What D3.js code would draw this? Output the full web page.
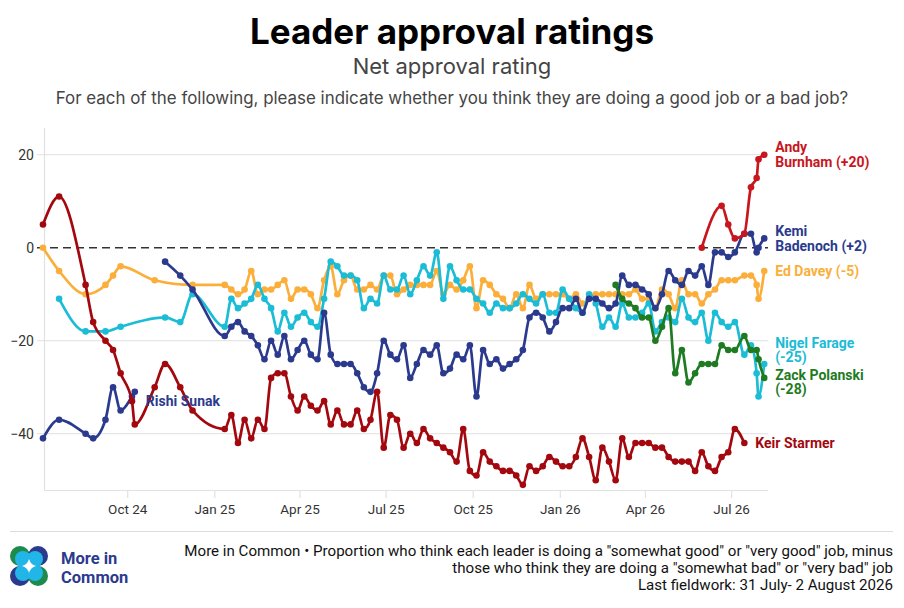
<!DOCTYPE html>
<html>
<head>
<meta charset="utf-8">
<script src="https://cdn.jsdelivr.net/npm/d3@7"></script>
<style>
  body { margin: 0; background: #fff; }
  text { font-family: Roboto, "Noto Sans", sans-serif; }
</style>
</head>
<body>
<div id="chart"></div>
<script>
// poll dates: sparse in 2024, then weekly
let earlyDates = ["2024-07-04","2024-07-21","2024-08-18","2024-08-26","2024-09-08","2024-09-16",
    "2024-09-24","2024-10-06","2024-10-09","2024-10-30","2024-11-10","2024-11-26","2024-12-09"];

let weekDates = [
    "2025-01-12","2025-01-19","2025-01-26","2025-02-02","2025-02-09","2025-02-16","2025-02-23",
    "2025-03-02","2025-03-09","2025-03-16","2025-03-23","2025-03-30",
    "2025-04-06","2025-04-13","2025-04-20","2025-04-27",
    "2025-05-04","2025-05-11","2025-05-18","2025-05-25",
    "2025-06-01","2025-06-08","2025-06-15","2025-06-22","2025-06-29",
    "2025-07-06","2025-07-13","2025-07-20","2025-07-27",
    "2025-08-03","2025-08-10","2025-08-17","2025-08-24","2025-08-31",
    "2025-09-07","2025-09-14","2025-09-21","2025-09-28",
    "2025-10-05","2025-10-12","2025-10-19","2025-10-26",
    "2025-11-02","2025-11-09","2025-11-16","2025-11-23","2025-11-30",
    "2025-12-07","2025-12-14","2025-12-21","2025-12-28",
    "2026-01-04","2026-01-11","2026-01-18","2026-01-25",
    "2026-02-01","2026-02-08","2026-02-15","2026-02-22",
    "2026-03-01","2026-03-08","2026-03-15","2026-03-22","2026-03-29",
    "2026-04-05","2026-04-12","2026-04-19","2026-04-26",
    "2026-05-03","2026-05-10","2026-05-17","2026-05-24","2026-05-31",
    "2026-06-07","2026-06-14","2026-06-21","2026-06-28",
    "2026-07-05","2026-07-15","2026-07-22","2026-07-28","2026-07-30","2026-08-05"];

let n = null;

let starmerEarly = [5, 11, -8, -16, -20, -22, -27, -33, -38, -30, -25, -30, -35];
let starmerWeekly = [-39,-36,-42,-37,-41,-37,-39,-28,-27,-27,
    -32,-35,-32,-34,-35,-33,-38,-35,-38,-38,
    -35,-39,-37,-31,-43,-36,-37,-43,-40,-42,
    -39,-41,-42,-43,-44,-46,-39,-48,-49,-44,
    -46,-47,-48,-48,-49,-51,-47,-48,-47,-45,
    -46,-47,-47,-45,-41,-45,-50,-43,-46,-50,
    -41,-45,-42,-42,-42,-43,-43,-45,-46,-46,
    -46,-48,-44,-47,-48,-45,-44,-39,-42,n,n,n,n];

let daveyEarly = [0, -5, -10, n, -8, -6, -4, n, n, -7, n, n, -8];
let daveyWeekly = [-8,-9,-10,-9,-5,-10,-9,-9,-8,-7,
    -11,-9,-9,-10,-13,-7,-4,-10,-7,-6,
    -9,-9,-8,-9,-6,-6,-10,-9,-8,-8,
    -8,-8,-5,-10,-8,-9,-7,-4,-13,-7,
    -8,-10,-11,-13,-10,-13,-8,-11,-10,-10,
    -10,-10,-11,-10,-12,-11,-10,-10,-10,-10,
    -10,-10,-9,-11,-11,-13,-9,-10,-13,-7,
    -10,-10,-12,-10,-9,-7,-7,-7,-6,-6,-8,-11,-5];

let farageEarly = [n, -11, -18, n, -18, n, -17, n, n, n, -15, -16, -10];
let farageWeekly = [-17,-11,-13,-12,-11,-8,-11,-13,-18,-14,
    -17,-15,-14,-16,-17,-11,-3,-4,-6,-6,
    -7,-13,-11,-12,-6,-9,-9,-6,-10,-7,
    -4,-6,-1,-11,-4,-7,-9,-9,-11,-12,
    -14,-12,-13,-13,-12,-10,-11,-12,-10,-14,
    -14,-9,-11,-13,-14,-10,-12,-17,-15,-17,
    -12,-15,-15,-14,-12,-18,-16,-15,-16,-11,
    -15,-16,-14,-20,-14,-16,-17,-16,-23,-21,-27,-32,-25];

let sunakEarly = [-41, -37, -40, -41, -37, -30, -35, -32, -31, n, n, n, n];

let badenochEarly = [n, n, n, n, n, n, n, n, n, n, -3, -6, -9];
let badenochWeekly = [-19,-17,-16,-18,-19,-21,-24,-20,-23,-19,
    -24,-22,-20,-23,-24,-14,-23,-25,-25,-25,
    -27,-30,-31,-27,-20,-23,-24,-21,-28,-25,
    -22,-23,-21,-27,-26,-23,-24,-21,-32,-22,
    -25,-24,-26,-25,-24,-22,-15,-14,-15,-18,
    -16,-13,-13,-11,-14,-11,-11,-12,-13,-12,
    -6,-8,-8,-9,-10,-13,-10,-5,-7,-8,
    -5,-6,-4,-8,-1,-1,-2,-1,3,3,-1,0,2];

let polanskiWeekly = [n,n,n,n,n,n,n,n,n,n, n,n,n,n,n,n,n,n,n,n,
    n,n,n,n,n,n,n,n,n,n, n,n,n,n,n,n,n,n,n,n,
    n,n,n,n,n,n,n,n,n,n, n,n,n,n,n,n,n,n,n,-8,
    -11,-12,-13,-15,-15,-20,-17,-13,-27,-22,
    -29,-27,-25,-25,-25,-21,-22,-22,-19,-22,-22,-24,-28];

let burnhamWeekly = [n,n,n,n,n,n,n,n,n,n, n,n,n,n,n,n,n,n,n,n,
    n,n,n,n,n,n,n,n,n,n, n,n,n,n,n,n,n,n,n,n,
    n,n,n,n,n,n,n,n,n,n, n,n,n,n,n,n,n,n,n,n,
    n,n,n,n,n,n,n,n,n,n,
    n,n,0,n,n,9,5,2,3,13,15,19,20];

let tickDates = ["2024-10-01","2025-01-01","2025-04-01","2025-07-01","2025-10-01",
    "2026-01-01","2026-04-01","2026-07-01"];
let yTicks = [20, 0, -20, -40];

let parse = d3.timeParse("%Y-%m-%d");

// series, drawn back to front
let series = [
    {name: "davey", color: "#fbaf3a", early: daveyEarly, weekly: daveyWeekly,
        label: ["Ed Davey (-5)"], shift: 0},
    {name: "farage", color: "#1bbcd6", early: farageEarly, weekly: farageWeekly,
        label: ["Nigel Farage", "(-25)"], shift: -14},
    {name: "sunak", color: "#2c3a8e", early: sunakEarly, weekly: [],
        label: ["Rishi Sunak"], shift: 9},
    {name: "badenoch", color: "#2c3a8e", early: badenochEarly, weekly: badenochWeekly,
        label: ["Kemi", "Badenoch (+2)"], shift: 0},
    {name: "polanski", color: "#1e7b22", early: [], weekly: polanskiWeekly,
        label: ["Zack Polanski", "(-28)"], shift: 4},
    {name: "starmer", color: "#a3080f", early: starmerEarly, weekly: starmerWeekly,
        label: ["Keir Starmer"], shift: 0},
    {name: "burnham", color: "#c8161e", early: [], weekly: burnhamWeekly,
        label: ["Andy", "Burnham (+20)"], shift: 0}
];

series.forEach(function(s) {
    let pts = [];
    s.early.forEach(function(v, i) { if (v !== null) pts.push({date: parse(earlyDates[i]), value: v}); });
    s.weekly.forEach(function(v, i) { if (v !== null) pts.push({date: parse(weekDates[i]), value: v}); });
    s.points = pts;
});

let W = 904, H = 608;
let svg = d3.select("#chart").append("svg")
    .attr("width", W)
    .attr("height", H)
    .style("background", "#fff");

// scales
let x = d3.scaleTime()
    .domain([new Date(2024, 6, 4), new Date(2026, 7, 9)])
    .range([43, 768]);
let y = d3.scaleLinear()
    .domain([-52, 26])
    .range([489.5, 126.8]);

// header
svg.append("text")
    .attr("x", W / 2).attr("y", 44)
    .attr("text-anchor", "middle")
    .style("font-family", "Inter, Lato, sans-serif")
    .style("font-weight", 700)
    .style("font-size", "35px")
    .attr("fill", "#000")
    .text("Leader approval ratings");
svg.append("text")
    .attr("x", W / 2).attr("y", 74)
    .attr("text-anchor", "middle")
    .style("font-family", "Inter, Lato, sans-serif")
    .style("font-size", "22px")
    .attr("fill", "#444")
    .text("Net approval rating");
svg.append("text")
    .attr("x", W / 2).attr("y", 104)
    .attr("text-anchor", "middle")
    .style("font-family", "Inter, Lato, sans-serif")
    .style("font-size", "16.9px")
    .attr("fill", "#444")
    .text("For each of the following, please indicate whether you think they are doing a good job or a bad job?");

// gridlines
svg.append("g").selectAll("line")
    .data(yTicks.filter(function(d) { return d !== 0; }))
    .enter().append("line")
    .attr("x1", 37).attr("x2", 768)
    .attr("y1", function(d) { return y(d); })
    .attr("y2", function(d) { return y(d); })
    .attr("stroke", "#e6e6e6")
    .attr("stroke-width", 1.2);

// left axis line
svg.append("line")
    .attr("x1", 44.5).attr("x2", 44.5)
    .attr("y1", 128).attr("y2", 490)
    .attr("stroke", "#e2e2e2")
    .attr("stroke-width", 1.2);

// y tick labels
let yAxis = svg.append("g")
    .attr("transform", "translate(36,0)")
    .call(d3.axisLeft(y).tickValues(yTicks).tickSize(0).tickPadding(2));
yAxis.select(".domain").remove();
yAxis.selectAll("text")
    .style("font-family", "Roboto, sans-serif")
    .style("font-size", "14px")
    .attr("fill", "#333");

// x axis
let xAxis = svg.append("g")
    .attr("transform", "translate(0,490)")
    .call(d3.axisBottom(x)
        .tickValues(tickDates.map(parse))
        .tickFormat(d3.timeFormat("%b %y"))
        .tickSize(8)
        .tickPadding(6));
xAxis.select(".domain").attr("d", "M44,0.5H768").attr("stroke", "#e2e2e2").attr("stroke-width", 1.2);
xAxis.selectAll(".tick line").attr("stroke", "#e2e2e2").attr("stroke-width", 1.2);
xAxis.selectAll("text")
    .style("font-family", "Roboto, sans-serif")
    .style("font-size", "13.5px")
    .attr("fill", "#333");

// zero line
svg.append("line")
    .attr("x1", 37).attr("x2", 768)
    .attr("y1", y(0)).attr("y2", y(0))
    .attr("stroke", "#333")
    .attr("stroke-width", 1.6)
    .attr("stroke-dasharray", "8,5");

// lines and dots
let line = d3.line()
    .x(function(d) { return x(d.date); })
    .y(function(d) { return y(d.value); })
    .curve(d3.curveMonotoneX);

series.forEach(function(s) {
    let g = svg.append("g").attr("class", "series " + s.name);
    g.append("path")
        .datum(s.points)
        .attr("d", line)
        .attr("fill", "none")
        .attr("stroke", s.color)
        .attr("stroke-width", 2.7)
        .attr("stroke-linejoin", "round");
    g.selectAll("circle")
        .data(s.points)
        .enter().append("circle")
        .attr("cx", function(d) { return x(d.date); })
        .attr("cy", function(d) { return y(d.value); })
        .attr("r", 3.3)
        .attr("fill", s.color);
});

// end labels
series.forEach(function(s) {
    let last = s.points[s.points.length - 1];
    let lh = 14.5;
    let cy = y(last.value) + s.shift - (s.label.length - 1) * lh / 2;
    let t = svg.append("text")
        .attr("x", x(last.date) + 11)
        .attr("y", cy)
        .attr("fill", s.color)
        .style("font-family", "Roboto, sans-serif")
        .style("font-weight", 700)
        .style("font-size", "14px");
    s.label.forEach(function(l, i) {
        t.append("tspan")
            .attr("x", x(last.date) + 11)
            .attr("dy", i === 0 ? "0.35em" : lh)
            .text(l);
    });
});

// footer
svg.append("line")
    .attr("x1", 10).attr("x2", 893)
    .attr("y1", 531.5).attr("y2", 531.5)
    .attr("stroke", "#dcdcdc")
    .attr("stroke-width", 1.2);

let footLines = [
    "More in Common \u2022 Proportion who think each leader is doing a \"somewhat good\" or \"very good\" job, minus",
    "those who think they are doing a \"somewhat bad\" or \"very bad\" job",
    "Last fieldwork: 31 July- 2 August 2026"
];
svg.append("g").selectAll("text")
    .data(footLines)
    .enter().append("text")
    .attr("x", 893)
    .attr("y", function(d, i) { return 556 + i * 17; })
    .attr("text-anchor", "end")
    .style("font-family", "Roboto, sans-serif")
    .style("font-size", "15.1px")
    .attr("fill", "#111")
    .text(function(d) { return d; });

// logo
let logo = svg.append("g").attr("transform", "translate(29,566)");
logo.append("circle").attr("cx", -9).attr("cy", -10).attr("r", 10).attr("fill", "#1e8a4c");
logo.append("circle").attr("cx", 9).attr("cy", -10).attr("r", 10).attr("fill", "#2c3a8e");
logo.append("circle").attr("cx", -9).attr("cy", 10).attr("r", 10).attr("fill", "#2c3a8e");
logo.append("circle").attr("cx", 9).attr("cy", 10).attr("r", 10).attr("fill", "#1e8a4c");
logo.append("circle").attr("cx", -6).attr("cy", -7).attr("r", 8).attr("fill", "#22b6e8");
logo.append("circle").attr("cx", 6).attr("cy", -7).attr("r", 8).attr("fill", "#22b6e8");
logo.append("circle").attr("cx", -6).attr("cy", 7).attr("r", 8).attr("fill", "#22b6e8");
logo.append("circle").attr("cx", 6).attr("cy", 7).attr("r", 8).attr("fill", "#22b6e8");
logo.append("path")
    .attr("d", "M0,-7 Q1.5,-1.5 7,0 Q1.5,1.5 0,7 Q-1.5,1.5 -7,0 Q-1.5,-1.5 0,-7Z")
    .attr("fill", "#fff");

let logoText = svg.append("text")
    .attr("x", 61).attr("y", 563.5)
    .style("font-family", "Roboto, sans-serif")
    .style("font-weight", 700)
    .style("font-size", "16.5px")
    .attr("fill", "#2c3a8e");
logoText.append("tspan").attr("x", 61).text("More in");
logoText.append("tspan").attr("x", 61).attr("dy", 19.5).text("Common");
</script>
</body>
</html>
